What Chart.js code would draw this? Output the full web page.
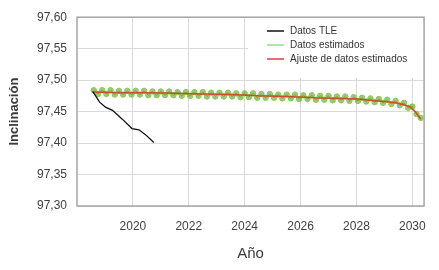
<!DOCTYPE html>
<html>
<head>
<meta charset="utf-8">
<script src="https://cdn.jsdelivr.net/npm/chart.js@4.4.1/dist/chart.umd.min.js"></script>
<style>
  html, body { margin: 0; padding: 0; background: #fff; }
  #wrap { width: 439px; height: 270px; }
</style>
</head>
<body>
<div id="wrap"><canvas id="chart" width="439" height="270"></canvas></div>
<script>
// Datos TLE
const tleYears = [2018.56, 2018.81, 2019.02, 2019.27, 2019.62, 2019.97, 2020.22, 2020.46, 2020.75];
const tleValues = [97.482, 97.465, 97.457, 97.452, 97.438, 97.423, 97.421, 97.413, 97.401];

// Datos estimados
const estYears = [
  2018.60, 2018.75, 2018.90, 2019.05, 2019.20, 2019.35, 2019.50, 2019.65, 2019.80, 2019.95,
  2020.10, 2020.25, 2020.40, 2020.55, 2020.70, 2020.85, 2021.00, 2021.15, 2021.30, 2021.45,
  2021.60, 2021.75, 2021.90, 2022.05, 2022.20, 2022.35, 2022.50, 2022.65, 2022.80, 2022.95,
  2023.10, 2023.25, 2023.40, 2023.55, 2023.70, 2023.85, 2024.00, 2024.15, 2024.30, 2024.45,
  2024.60, 2024.75, 2024.90, 2025.05, 2025.20, 2025.35, 2025.50, 2025.65, 2025.80, 2025.95,
  2026.10, 2026.25, 2026.40, 2026.55, 2026.70, 2026.85, 2027.00, 2027.15, 2027.30, 2027.45,
  2027.60, 2027.75, 2027.90, 2028.05, 2028.20, 2028.35, 2028.50, 2028.65, 2028.80, 2028.95,
  2029.10, 2029.25, 2029.40, 2029.55, 2029.70, 2029.85, 2030.00, 2030.15, 2030.30
];
const estValues = [
  97.484, 97.478, 97.484, 97.478, 97.484, 97.477, 97.483, 97.477, 97.483, 97.477,
  97.483, 97.477, 97.483, 97.476, 97.482, 97.476, 97.482, 97.476, 97.482, 97.476,
  97.481, 97.475, 97.481, 97.475, 97.481, 97.475, 97.481, 97.474, 97.480, 97.474,
  97.480, 97.474, 97.480, 97.474, 97.479, 97.473, 97.479, 97.473, 97.479, 97.472,
  97.478, 97.472, 97.478, 97.472, 97.477, 97.471, 97.477, 97.471, 97.477, 97.470,
  97.476, 97.470, 97.476, 97.469, 97.475, 97.469, 97.475, 97.468, 97.474, 97.468,
  97.474, 97.467, 97.473, 97.467, 97.472, 97.466, 97.471, 97.465, 97.470, 97.464,
  97.469, 97.462, 97.467, 97.460, 97.464, 97.456, 97.458, 97.446, 97.440
];

// Ajuste de datos estimados
const fitYears = [2018.6, 2019.5, 2020.5, 2021.5, 2022.5, 2023.5, 2024.5, 2025.5, 2026.5, 2027.5, 2028.0, 2028.5, 2029.0, 2029.4, 2029.7, 2029.9, 2030.1, 2030.3];
const fitValues = [97.481, 97.480, 97.480, 97.479, 97.478, 97.477, 97.475, 97.474, 97.472, 97.471, 97.470, 97.468, 97.466, 97.464, 97.461, 97.458, 97.450, 97.438];

const xTicks = [2020, 2022, 2024, 2026, 2028, 2030];
const yTicks = [97.30, 97.35, 97.40, 97.45, 97.50, 97.55, 97.60];

const narrow = "'Liberation Sans Narrow', 'Arial Narrow', 'Liberation Sans', sans-serif";

function pts(xs, ys) {
    return xs.map((x, i) => ({x: x, y: ys[i]}));
}

const frameBorder = {
    id: 'frameBorder',
    afterDatasetsDraw(chart) {
        const {ctx, chartArea: {left, top, right, bottom}} = chart;
        ctx.save();
        ctx.strokeStyle = '#a6a6a6';
        ctx.lineWidth = 1.5;
        ctx.strokeRect(left, top, right - left, bottom - top);
        ctx.restore();
    }
};

const innerLegend = {
    id: 'innerLegend',
    afterDraw(chart) {
        const {ctx, chartArea: {top}} = chart;
        ctx.save();
        ctx.fillStyle = '#ffffff';
        ctx.fillRect(248, top + 1, 423 - 248, 77 - top);
        const items = chart.data.datasets.slice().reverse();
        ctx.font = '10px ' + narrow;
        ctx.textBaseline = 'middle';
        items.forEach((ds, i) => {
            const y = 31 + i * 14;
            ctx.strokeStyle = ds.legendColor;
            ctx.lineWidth = 1.5;
            ctx.beginPath();
            ctx.moveTo(267, y);
            ctx.lineTo(284, y);
            ctx.stroke();
            ctx.fillStyle = '#333333';
            ctx.fillText(ds.label, 290, y);
        });
        ctx.restore();
    }
};

new Chart(document.getElementById('chart'), {
    type: 'scatter',
    data: {
        datasets: [
            {
                label: 'Ajuste de datos estimados',
                data: pts(fitYears, fitValues),
                showLine: true,
                borderColor: 'rgba(215,55,35,0.85)',
                borderWidth: 1.5,
                pointRadius: 0,
                legendColor: '#e03a4a',
                order: 2
            },
            {
                label: 'Datos estimados',
                data: pts(estYears, estValues),
                showLine: true,
                borderColor: '#8fd14f',
                borderWidth: 1,
                pointRadius: 2.7,
                pointBorderColor: '#84cc45',
                pointBackgroundColor: 'rgba(85,145,35,0.55)',
                pointBorderWidth: 1,
                legendColor: '#8fe08f',
                order: 3
            },
            {
                label: 'Datos TLE',
                data: pts(tleYears, tleValues),
                showLine: true,
                borderColor: '#111111',
                borderWidth: 1.3,
                pointRadius: 0,
                legendColor: '#111111',
                order: 1
            }
        ]
    },
    options: {
        responsive: false,
        animation: false,
        layout: {padding: {left: 0, right: 9, top: 13, bottom: 0}},
        plugins: {legend: {display: false}, tooltip: {enabled: false}},
        scales: {
            x: {
                type: 'linear',
                min: 2018,
                max: 2030.42,
                afterFit(scale) { scale.height = 64; },
                afterBuildTicks(scale) { scale.ticks = xTicks.map(v => ({value: v})); },
                grid: {color: '#dadada', lineWidth: 1, drawTicks: false},
                border: {display: false},
                ticks: {
                    padding: 13,
                    color: '#404040',
                    font: {family: narrow, size: 12},
                    callback: v => String(v)
                },
                title: {
                    display: true,
                    text: 'Año',
                    color: '#3a3a3a',
                    font: {family: narrow, size: 15},
                    padding: {top: 0, bottom: 7}
                }
            },
            y: {
                min: 97.30,
                max: 97.60,
                afterFit(scale) { scale.width = 77; },
                afterBuildTicks(scale) { scale.ticks = yTicks.map(v => ({value: v})); },
                grid: {color: '#dadada', lineWidth: 1, drawTicks: false},
                border: {display: false},
                ticks: {
                    padding: 10,
                    color: '#404040',
                    font: {family: narrow, size: 12},
                    callback: v => v.toFixed(2).replace('.', ',')
                },
                title: {
                    display: true,
                    text: 'Inclinación',
                    color: '#3a3a3a',
                    font: {family: narrow, size: 13, weight: 'bold'},
                    padding: {top: 7, bottom: 0}
                }
            }
        }
    },
    plugins: [frameBorder, innerLegend]
});
</script>
</body>
</html>
